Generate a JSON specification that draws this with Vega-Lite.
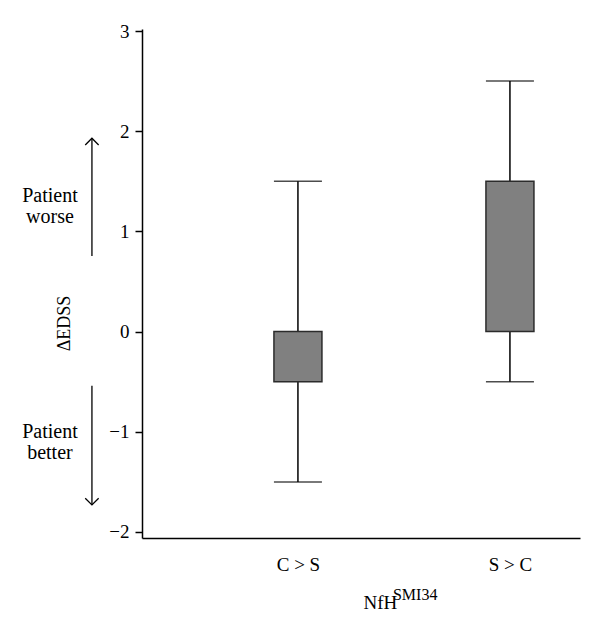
{
  "$schema": "https://vega.github.io/schema/vega-lite/v6.json",
  "width": 438,
  "height": 509,
  "autosize": "none",
  "padding": {"left": 142, "top": 29, "right": 20, "bottom": 98},
  "background": "white",
  "datasets": {
    "boxes": [
      {"group": "C > S", "min": -1.5, "q1": -0.5, "q3": 0, "max": 1.5},
      {"group": "S > C", "min": -0.5, "q1": 0, "q3": 1.5, "max": 2.5}
    ],
    "notes": [
      {"label": "Patient\nworse", "ty": 1.293, "a0": 0.755, "a1": 1.93, "dir": "up"},
      {"label": "Patient\nbetter", "ty": -1.062, "a0": -0.54, "a1": -1.73, "dir": "down"}
    ],
    "sup": [{"t": "SMI34"}]
  },
  "layer": [
    {
      "data": {"name": "boxes"},
      "mark": {"type": "rule", "stroke": "black", "strokeWidth": 1.5},
      "encoding": {
        "x": {
          "field": "group", "type": "nominal", "title": "NfH",
          "scale": {"type": "point", "domain": ["C > S", "S > C"], "padding": 0.533, "align": 0.69},
          "axis": {"ticks": false, "tickSize": 0, "labelPadding": 17, "labelFontSize": 19, "labelAngle": 0, "labelFont": "Liberation Serif",
                   "titleX": 221, "titleY": 70, "titleAlign": "left", "titleBaseline": "alphabetic", "titleFontSize": 19, "titleFont": "Liberation Serif"}
        },
        "y": {
          "field": "min", "type": "quantitative", "title": "ΔEDSS",
          "scale": {"domain": [-2.06, 3.02], "nice": false, "zero": false},
          "axis": {"values": [-2, -1, 0, 1, 2, 3], "format": "d", "tickSize": 7, "labelPadding": 6, "labelFontSize": 19, "labelFont": "Liberation Serif",
                   "titleX": -69, "titleY": 294, "titleAlign": "center", "titleBaseline": "bottom", "titleAngle": -90, "titleFontSize": 18, "titleFont": "Liberation Serif"}
        },
        "y2": {"field": "max"}
      }
    },
    {
      "data": {"name": "boxes"},
      "mark": {"type": "tick", "orient": "horizontal", "size": 48, "thickness": 1.5, "color": "black"},
      "encoding": {
        "x": {"field": "group", "type": "nominal", "title": "NfH",
          "axis": {"ticks": false, "tickSize": 0, "labelPadding": 17, "labelFontSize": 19, "labelAngle": 0, "labelFont": "Liberation Serif",
                   "titleX": 221, "titleY": 70, "titleAlign": "left", "titleBaseline": "alphabetic", "titleFontSize": 19, "titleFont": "Liberation Serif"}},
        "y": {"field": "max", "type": "quantitative", "title": "ΔEDSS",
          "axis": {"values": [-2, -1, 0, 1, 2, 3], "format": "d", "tickSize": 7, "labelPadding": 6, "labelFontSize": 19, "labelFont": "Liberation Serif",
                   "titleX": -69, "titleY": 294, "titleAlign": "center", "titleBaseline": "bottom", "titleAngle": -90, "titleFontSize": 18, "titleFont": "Liberation Serif"}}
      }
    },
    {
      "data": {"name": "boxes"},
      "mark": {"type": "tick", "orient": "horizontal", "size": 48, "thickness": 1.5, "color": "black"},
      "encoding": {
        "x": {"field": "group", "type": "nominal", "title": "NfH",
          "axis": {"ticks": false, "tickSize": 0, "labelPadding": 17, "labelFontSize": 19, "labelAngle": 0, "labelFont": "Liberation Serif",
                   "titleX": 221, "titleY": 70, "titleAlign": "left", "titleBaseline": "alphabetic", "titleFontSize": 19, "titleFont": "Liberation Serif"}},
        "y": {"field": "min", "type": "quantitative", "title": "ΔEDSS",
          "axis": {"values": [-2, -1, 0, 1, 2, 3], "format": "d", "tickSize": 7, "labelPadding": 6, "labelFontSize": 19, "labelFont": "Liberation Serif",
                   "titleX": -69, "titleY": 294, "titleAlign": "center", "titleBaseline": "bottom", "titleAngle": -90, "titleFontSize": 18, "titleFont": "Liberation Serif"}}
      }
    },
    {
      "data": {"name": "boxes"},
      "mark": {"type": "bar", "width": 48, "fill": "#808080", "stroke": "#2b2b2b", "strokeWidth": 1.5},
      "encoding": {
        "x": {"field": "group", "type": "nominal", "title": "NfH",
          "axis": {"ticks": false, "tickSize": 0, "labelPadding": 17, "labelFontSize": 19, "labelAngle": 0, "labelFont": "Liberation Serif",
                   "titleX": 221, "titleY": 70, "titleAlign": "left", "titleBaseline": "alphabetic", "titleFontSize": 19, "titleFont": "Liberation Serif"}},
        "y": {"field": "q1", "type": "quantitative", "title": "ΔEDSS",
          "axis": {"values": [-2, -1, 0, 1, 2, 3], "format": "d", "tickSize": 7, "labelPadding": 6, "labelFontSize": 19, "labelFont": "Liberation Serif",
                   "titleX": -69, "titleY": 294, "titleAlign": "center", "titleBaseline": "bottom", "titleAngle": -90, "titleFontSize": 18, "titleFont": "Liberation Serif"}},
        "y2": {"field": "q3"}
      }
    },
    {
      "data": {"name": "notes"},
      "mark": {"type": "text", "font": "Liberation Serif", "fontSize": 20, "align": "center", "baseline": "alphabetic",
               "lineBreak": "\n", "lineHeight": 21, "dx": -248, "color": "black"},
      "encoding": {
        "x": {"datum": "C > S", "type": "nominal", "title": "NfH",
          "axis": {"ticks": false, "tickSize": 0, "labelPadding": 17, "labelFontSize": 19, "labelAngle": 0, "labelFont": "Liberation Serif",
                   "titleX": 221, "titleY": 70, "titleAlign": "left", "titleBaseline": "alphabetic", "titleFontSize": 19, "titleFont": "Liberation Serif"}},
        "y": {"field": "ty", "type": "quantitative", "title": "ΔEDSS",
          "axis": {"values": [-2, -1, 0, 1, 2, 3], "format": "d", "tickSize": 7, "labelPadding": 6, "labelFontSize": 19, "labelFont": "Liberation Serif",
                   "titleX": -69, "titleY": 294, "titleAlign": "center", "titleBaseline": "bottom", "titleAngle": -90, "titleFontSize": 18, "titleFont": "Liberation Serif"}},
        "text": {"field": "label"}
      }
    },
    {
      "data": {"name": "notes"},
      "mark": {"type": "rule", "stroke": "black", "strokeWidth": 1.3, "xOffset": -206},
      "encoding": {
        "x": {"datum": "C > S", "type": "nominal", "title": "NfH",
          "axis": {"ticks": false, "tickSize": 0, "labelPadding": 17, "labelFontSize": 19, "labelAngle": 0, "labelFont": "Liberation Serif",
                   "titleX": 221, "titleY": 70, "titleAlign": "left", "titleBaseline": "alphabetic", "titleFontSize": 19, "titleFont": "Liberation Serif"}},
        "y": {"field": "a0", "type": "quantitative", "title": "ΔEDSS",
          "axis": {"values": [-2, -1, 0, 1, 2, 3], "format": "d", "tickSize": 7, "labelPadding": 6, "labelFontSize": 19, "labelFont": "Liberation Serif",
                   "titleX": -69, "titleY": 294, "titleAlign": "center", "titleBaseline": "bottom", "titleAngle": -90, "titleFontSize": 18, "titleFont": "Liberation Serif"}},
        "y2": {"field": "a1"}
      }
    },
    {
      "data": {"name": "notes"},
      "mark": {"type": "point", "filled": false, "stroke": "black", "strokeWidth": 1.3, "size": 180, "xOffset": -206, "opacity": 1},
      "encoding": {
        "x": {"datum": "C > S", "type": "nominal", "title": "NfH",
          "axis": {"ticks": false, "tickSize": 0, "labelPadding": 17, "labelFontSize": 19, "labelAngle": 0, "labelFont": "Liberation Serif",
                   "titleX": 221, "titleY": 70, "titleAlign": "left", "titleBaseline": "alphabetic", "titleFontSize": 19, "titleFont": "Liberation Serif"}},
        "y": {"field": "a1", "type": "quantitative", "title": "ΔEDSS",
          "axis": {"values": [-2, -1, 0, 1, 2, 3], "format": "d", "tickSize": 7, "labelPadding": 6, "labelFontSize": 19, "labelFont": "Liberation Serif",
                   "titleX": -69, "titleY": 294, "titleAlign": "center", "titleBaseline": "bottom", "titleAngle": -90, "titleFontSize": 18, "titleFont": "Liberation Serif"}},
        "shape": {"field": "dir", "type": "nominal", "legend": null,
                  "scale": {"domain": ["up", "down"], "range": ["M-1,1L0,0L1,1", "M-1,-1L0,0L1,-1"]}}
      }
    },
    {
      "data": {"name": "sup"},
      "mark": {"type": "text", "font": "Liberation Serif", "fontSize": 16, "align": "left", "baseline": "alphabetic",
               "dx": 95, "dy": 62, "color": "black"},
      "encoding": {
        "x": {"datum": "C > S", "type": "nominal", "title": "NfH",
          "axis": {"ticks": false, "tickSize": 0, "labelPadding": 17, "labelFontSize": 19, "labelAngle": 0, "labelFont": "Liberation Serif",
                   "titleX": 221, "titleY": 70, "titleAlign": "left", "titleBaseline": "alphabetic", "titleFontSize": 19, "titleFont": "Liberation Serif"}},
        "y": {"datum": -2.06, "type": "quantitative", "title": "ΔEDSS",
          "axis": {"values": [-2, -1, 0, 1, 2, 3], "format": "d", "tickSize": 7, "labelPadding": 6, "labelFontSize": 19, "labelFont": "Liberation Serif",
                   "titleX": -69, "titleY": 294, "titleAlign": "center", "titleBaseline": "bottom", "titleAngle": -90, "titleFontSize": 18, "titleFont": "Liberation Serif"}},
        "text": {"field": "t"}
      }
    }
  ],
  "config": {
    "view": {"stroke": null},
    "axis": {
      "domainColor": "black", "domainWidth": 1.5, "tickColor": "black", "tickWidth": 1.5,
      "labelColor": "black", "titleColor": "black", "labelFont": "Liberation Serif", "titleFont": "Liberation Serif",
      "grid": false, "titleFontWeight": "normal"
    }
  }
}
